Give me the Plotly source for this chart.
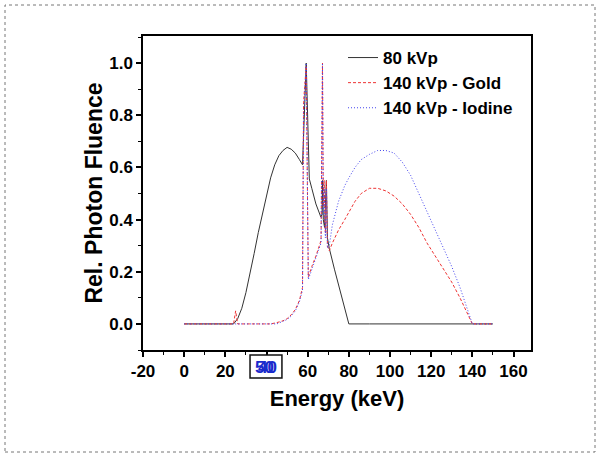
import plotly.graph_objects as go

# ---------------- data ----------------
energy_80 = [0, 10, 20, 24, 26, 28, 30, 32, 34, 36, 38, 40, 42, 44, 46, 48, 50, 52, 54, 56, 57.5,
             59.3, 60.8, 62, 64, 66.4, 67.0, 67.2, 67.6, 68.2, 69.1, 69.6, 70.5, 73, 76, 78, 80, 90, 100, 120, 140, 150]
fluence_80 = [0, 0, 0, 0, 0.02, 0.06, 0.12, 0.19, 0.27, 0.35, 0.42, 0.50, 0.56, 0.61, 0.645, 0.665, 0.677, 0.67, 0.655, 0.63, 0.61,
              1.0, 0.556, 0.52, 0.46, 0.41, 0.42, 0.55, 0.40, 0.37, 0.55, 0.33, 0.29, 0.21, 0.12, 0.06, 0.0, 0, 0, 0, 0, 0]

energy_140 = [0, 10, 20, 24, 25, 26, 30, 40, 42, 45, 48, 50, 52, 54, 56, 57.5, 58.0, 59.3, 60.3, 62, 64, 66.5,
              67.2, 67.6, 68.0, 68.6, 69.1, 69.6, 70.5, 72, 75, 78, 80, 83, 86, 90, 94, 98, 102, 106, 110, 114,
              118, 122, 126, 130, 134, 137, 140, 145, 150]
fluence_gold = [0, 0, 0, 0, 0.05, 0, 0, 0, 0, 0.005, 0.012, 0.02, 0.035, 0.055, 0.09, 0.14, 0.85, 0.99, 0.18, 0.22, 0.26, 0.32,
                1.0, 0.45, 0.55, 0.35, 0.55, 0.30, 0.28, 0.31, 0.36, 0.40, 0.43, 0.47, 0.50, 0.52, 0.52, 0.51, 0.49, 0.46, 0.42, 0.37,
                0.31, 0.26, 0.21, 0.16, 0.10, 0.05, 0.0, 0, 0]
fluence_iodine = [0, 0, 0, 0, 0, 0, 0, 0, 0, 0.0, 0.01, 0.017, 0.03, 0.05, 0.085, 0.13, 0.80, 1.0, 0.17, 0.21, 0.25, 0.31,
                  1.0, 0.42, 0.52, 0.33, 0.52, 0.29, 0.30, 0.38, 0.47, 0.53, 0.56, 0.60, 0.63, 0.65, 0.665, 0.665, 0.655, 0.62, 0.57, 0.50,
                  0.43, 0.36, 0.29, 0.22, 0.14, 0.07, 0.0, 0, 0]

series_names = ["80 kVp", "140 kVp - Gold", "140 kVp - Iodine"]
x_tick_vals = [-20, 0, 20, 40, 60, 80, 100, 120, 140, 160]
x_tick_text = ["-20", "0", "20", "", "60", "80", "100", "120", "140", "160"]
overlap_labels = ["50", "40"]

# ---------------- figure ----------------
W, H = 601, 458
L, R, T, B = 143, 70, 36, 108
FONT = "Liberation Sans, Arial, sans-serif"

fig = go.Figure()
fig.add_trace(go.Scatter(x=energy_80, y=fluence_80, mode="lines", name=series_names[0],
                         line=dict(color="#333333", width=1)))
fig.add_trace(go.Scatter(x=energy_140, y=fluence_gold, mode="lines", name=series_names[1],
                         line=dict(color="#ee3333", width=1, dash="3px,2px")))
fig.add_trace(go.Scatter(x=energy_140, y=fluence_iodine, mode="lines", name=series_names[2],
                         line=dict(color="#4444ee", width=1, dash="1px,2px")))

axis_common = dict(showline=True, mirror=True, linecolor="black", linewidth=1.5,
                   ticks="outside", ticklen=5, tickwidth=1.5, tickcolor="black",
                   showgrid=False, zeroline=False)

fig.update_xaxes(range=[-20, 168.5], tickmode="array", tickvals=x_tick_vals, ticktext=x_tick_text,
                 minor=dict(ticks="outside", ticklen=3, tickwidth=1.2, tickcolor="black", dtick=10, tick0=0),
                 tickfont=dict(family=FONT, size=17, color="black", weight="bold"),
                 title=dict(text="Energy (keV)", standoff=10,
                            font=dict(family=FONT, size=22, color="black", weight="bold")),
                 **axis_common)
fig.update_yaxes(range=[-0.1, 1.104], tickmode="linear", tick0=0, dtick=0.2, tickformat=".1f",
                 minor=dict(ticks="outside", ticklen=3, tickwidth=1.2, tickcolor="black", dtick=0.1, tick0=0),
                 tickfont=dict(family=FONT, size=17, color="black", weight="bold"),
                 title=dict(text="Rel. Photon Fluence", standoff=0,
                            font=dict(family=FONT, size=23, color="black", weight="bold")),
                 **axis_common)

pw = W - L - R
ph = H - T - B
def px_x(p):
    return (p - L) / pw
def px_y(p):
    return (H - B - p) / ph

shapes = [
    # outer dotted frame
    dict(type="rect", xref="paper", yref="paper", x0=px_x(5), x1=px_x(595), y0=px_y(452), y1=px_y(5),
         line=dict(color="#777777", width=1, dash="dot"), layer="below"),
    # box around the overlapping tick label
    dict(type="rect", xref="x", yref="paper", x0=x_tick_vals[3] - 8, x1=x_tick_vals[3] + 7.5,
         y0=px_y(378), y1=px_y(355), line=dict(color="#111111", width=1.5), fillcolor="white"),
]

annotations = []
for i, t in enumerate(overlap_labels):
    annotations.append(dict(x=x_tick_vals[3], y=px_y(367), xref="x", yref="paper", text=t,
                            showarrow=False, xshift=-2 + 3 * i, xanchor="center", yanchor="middle",
                            font=dict(family=FONT, size=17, color="#1a2acc", weight="bold")))

fig.update_layout(
    width=W, height=H,
    margin=dict(l=L, r=R, t=T, b=B),
    paper_bgcolor="white", plot_bgcolor="white",
    shapes=shapes, annotations=annotations,
    legend=dict(x=px_x(343), y=px_y(40), xanchor="left", yanchor="top",
                bgcolor="rgba(0,0,0,0)", borderwidth=0, tracegroupgap=0,
                font=dict(family=FONT, size=17, color="black", weight="bold")),
    showlegend=True,
)

fig.write_html("out.html", config={"displayModeBar": False},
               post_script="document.body.style.margin='0';document.body.style.padding='0';")
